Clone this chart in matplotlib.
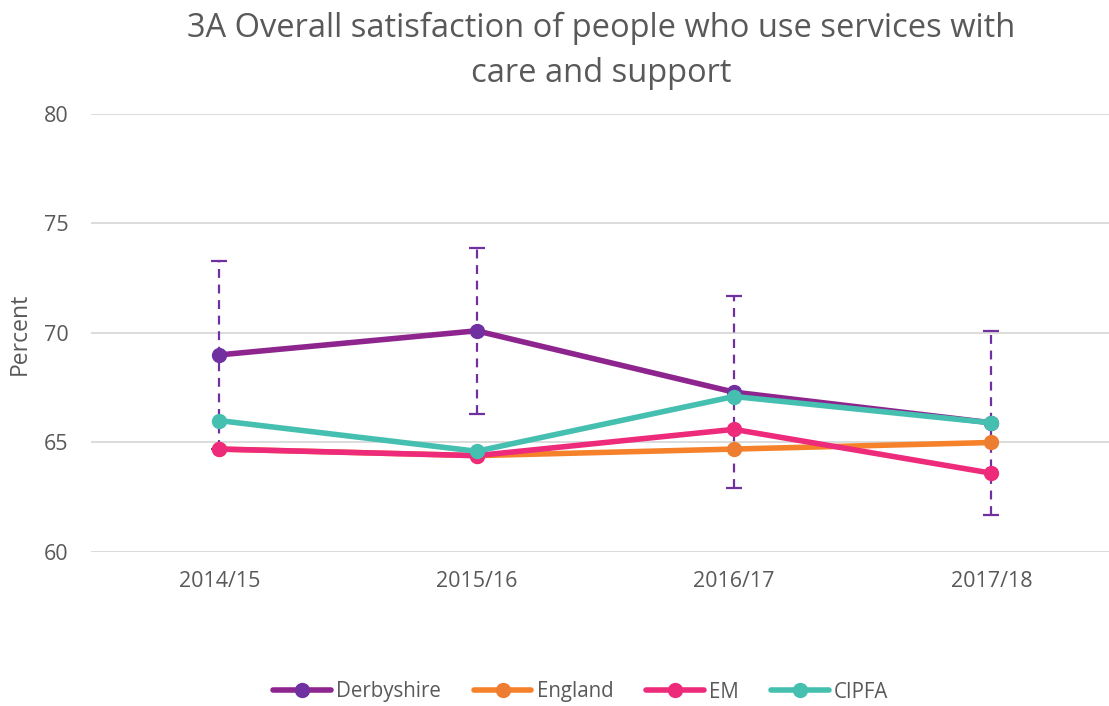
import matplotlib.pyplot as plt
import numpy as np

# Data
years = ['2014/15', '2015/16', '2016/17', '2017/18']
derbyshire = [69.0, 70.1, 67.3, 65.9]
england = [64.7, 64.4, 64.7, 65.0]
em = [64.7, 64.4, 65.6, 63.6]
cipfa = [66.0, 64.6, 67.1, 65.9]
# Derbyshire confidence interval bounds
ci_lower = [64.7, 66.3, 62.9, 61.7]
ci_upper = [73.3, 73.9, 71.7, 70.1]

plt.rcParams['font.family'] = ['Open Sans', 'DejaVu Sans']

fig = plt.figure(figsize=(11.09, 7.06), dpi=100)
ax = fig.add_axes([90.6 / 1109, 154 / 706, (1120 - 90.6) / 1109, 438 / 706])

x = np.arange(len(years))

# error bars (dashed purple with caps)
yerr = [np.array(derbyshire) - np.array(ci_lower), np.array(ci_upper) - np.array(derbyshire)]
eb = ax.errorbar(x, derbyshire, yerr=yerr, fmt='none', ecolor='#7030A0',
                 elinewidth=1.6, capsize=6, capthick=1.6, zorder=2)
for lc in eb[2]:
    lc.set_linestyle((0, (4, 3)))

series = [
    ('Derbyshire', derbyshire, '#8E258E', '#7030A0'),
    ('England', england, '#F5822A', '#ED7D31'),
    ('EM', em, '#EE2A7B', '#EE2A7B'),
    ('CIPFA', cipfa, '#45BFB0', '#45BFB0'),
]
for name, vals, lc, mc in series:
    ax.plot(x, vals, color=lc, linewidth=4.0, marker='o', markersize=10,
            markerfacecolor=mc, markeredgecolor=mc, label=name, zorder=3,
            solid_capstyle='round')

ax.set_xlim(-0.5, 3.5)
ax.set_ylim(60, 80)
ax.set_yticks([60, 65, 70, 75, 80])
ax.set_xticks(x)
ax.set_xticklabels(years)
ax.tick_params(axis='both', length=0, labelsize=15.5, colors='#595959')
ax.tick_params(axis='y', pad=16)
ax.tick_params(axis='x', pad=14)
ax.grid(axis='y', color='#D9D9D9', linewidth=1.3)
ax.set_axisbelow(True)
for s in ax.spines.values():
    s.set_visible(False)

fig.text(20 / 1109, 1 - 334 / 706, 'Percent', rotation=90, ha='center', va='center',
         fontsize=16.5, color='#595959')

fig.text(601 / 1109, 1 - 51 / 706,
         '3A Overall satisfaction of people who use services with\ncare and support',
         ha='center', va='center', fontsize=23.5, color='#595959', linespacing=1.45)

fig.legend(loc='center', bbox_to_anchor=(581 / 1109, 1 - 692 / 706), ncol=4,
           frameon=False, fontsize=14.8, handlelength=2.8, columnspacing=1.6,
           handletextpad=0.25, labelcolor='#595959')

fig.savefig('out.png', dpi=100)
